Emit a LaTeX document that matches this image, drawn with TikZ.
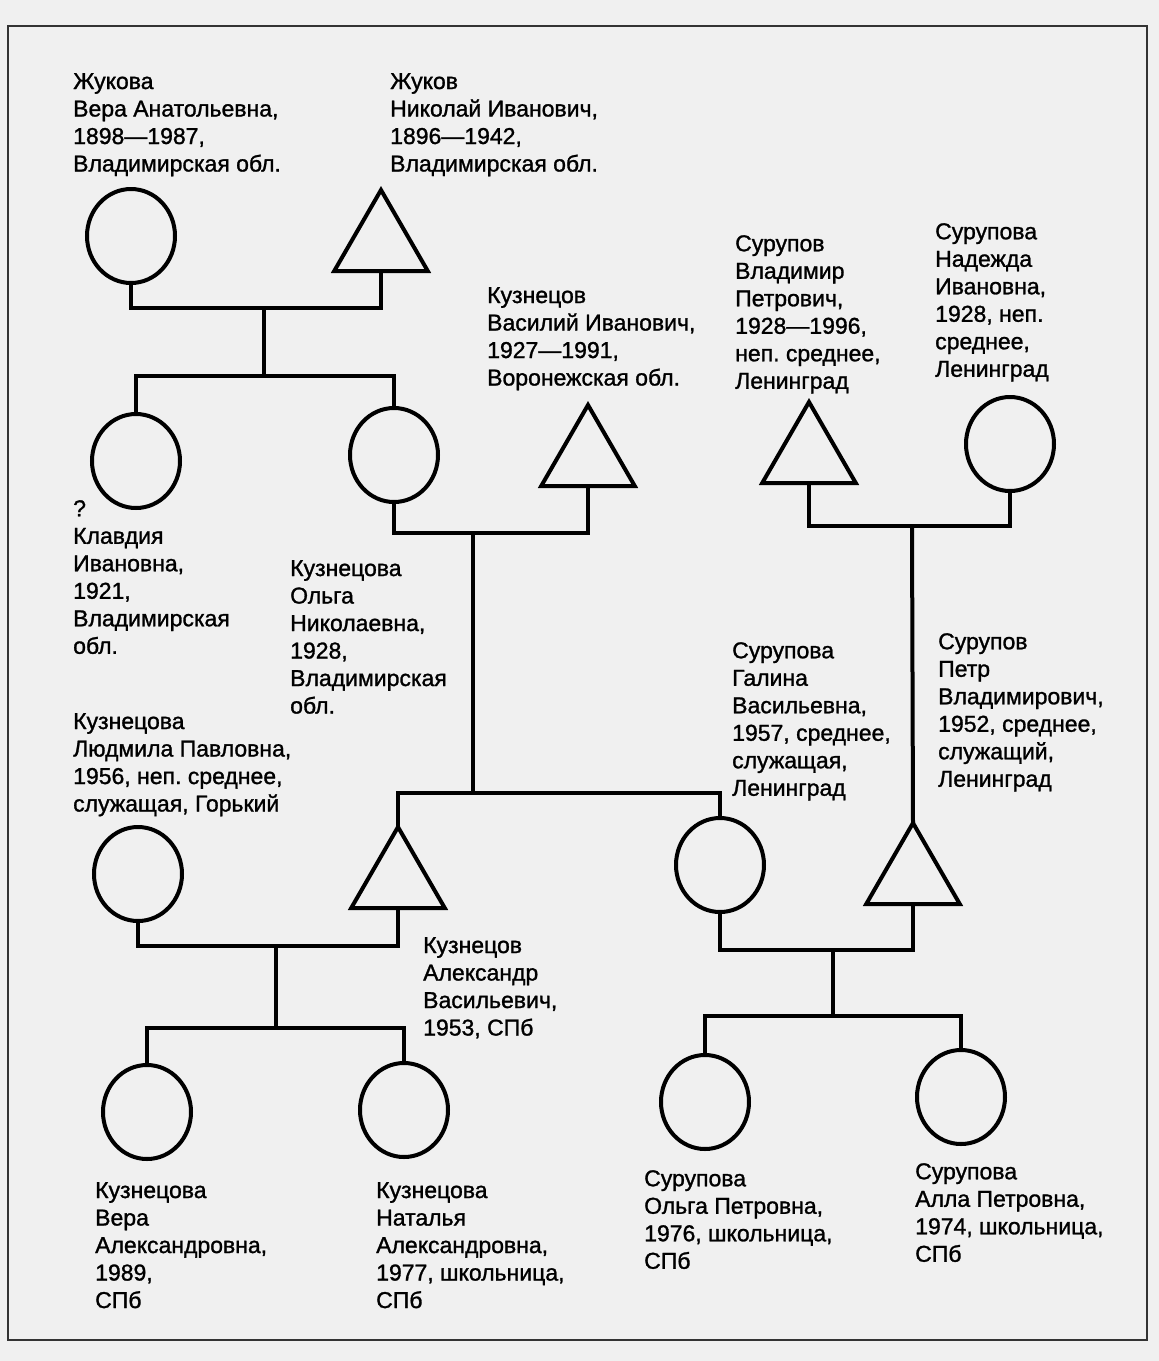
\documentclass[tikz,border=0pt]{standalone}
\usepackage{fontspec}
\setmainfont{Liberation Sans}[BoldFont={Liberation Sans}, BoldFeatures={FakeBold=1.2}]
\usetikzlibrary{shapes.geometric}
\frenchspacing

\tikzset{
  female/.style={draw, line width=4pt, ellipse, minimum width=88pt, minimum height=94pt, inner sep=0pt, outer sep=0pt},
  male/.style={draw, line width=4pt, regular polygon, regular polygon sides=3, minimum size=108pt, inner sep=0pt, outer sep=0pt},
  info/.style={anchor=north west, inner sep=0pt, align=left, font=\fontsize{23}{27.5}\selectfont\bfseries},
  link/.style={line width=4pt}
}

\begin{document}
\begin{tikzpicture}[x=1pt, y=-1pt]
  % Paper and frame
  \fill[black!6] (0,0) rectangle (1159,1361);
  \useasboundingbox (0,0) rectangle (1159,1361);
  \draw[line width=2pt, black!80] (8,26) rectangle (1147,1340);

  % Grandparents
  \node[female] (zhukova) at (131,236) {};
  \node[male] (zhukov) at (381,244) {};
  \node[info] (tzhukova) at (73,73) {Жукова\\Вера Анатольевна,\\1898—1987,\\Владимирская обл.};
  \node[info] (tzhukov) at (390,73) {Жуков\\Николай Иванович,\\1896—1942,\\Владимирская обл.};

  \node[male] (vasily) at (588,459) {};
  \node[info] (tvasily) at (487,287) {Кузнецов\\Василий Иванович,\\1927—1991,\\Воронежская обл.};

  \node[male] (vladimir) at (809,456) {};
  \node[female] (nadezhda) at (1010,444) {};
  \node[info] (tvladimir) at (735,235) {Сурупов\\Владимир\\Петрович,\\1928—1996,\\неп. среднее,\\Ленинград};
  \node[info] (tnadezhda) at (935,223) {Сурупова\\Надежда\\Ивановна,\\1928, неп.\\среднее,\\Ленинград};

  % Parents
  \node[female] (klavdia) at (136,461) {};
  \node[female] (olga) at (394,455) {};
  \node[info] (tklavdia) at (73,500) {?\\Клавдия\\Ивановна,\\1921,\\Владимирская\\обл.};
  \node[info] (tolga) at (290,560) {Кузнецова\\Ольга\\Николаевна,\\1928,\\Владимирская\\обл.};

  \node[female] (ludmila) at (138,874) {};
  \node[male] (alexandr) at (398,881) {};
  \node[female] (galina) at (720,865) {};
  \node[male] (petr) at (913,877) {};
  \node[info] (tludmila) at (73,713) {Кузнецова\\Людмила Павловна,\\1956, неп. среднее,\\служащая, Горький};
  \node[info] (talexandr) at (423,937) {Кузнецов\\Александр\\Васильевич,\\1953, СПб};
  \node[info] (tgalina) at (732,642) {Сурупова\\Галина\\Васильевна,\\1957, среднее,\\служащая,\\Ленинград};
  \node[info] (tpetr) at (938,633) {Сурупов\\Петр\\Владимирович,\\1952, среднее,\\служащий,\\Ленинград};

  % Children
  \node[female] (vera) at (147,1112) {};
  \node[female] (natalya) at (404,1110) {};
  \node[female] (olgap) at (705,1102) {};
  \node[female] (alla) at (961,1097) {};
  \node[info] (tvera) at (95,1182) {Кузнецова\\Вера\\Александровна,\\1989,\\СПб};
  \node[info] (tnatalya) at (376,1182) {Кузнецова\\Наталья\\Александровна,\\1977, школьница,\\СПб};
  \node[info] (tolgap) at (644,1170) {Сурупова\\Ольга Петровна,\\1976, школьница,\\СПб};
  \node[info] (talla) at (915,1163) {Сурупова\\Алла Петровна,\\1974, школьница,\\СПб};

  % Marriages and descent
  \coordinate (m1) at (264,308);
  \coordinate (s1) at (264,376);
  \draw[link] (zhukova.south) |- (m1) -| (zhukov.south);
  \draw[link] (m1) -- (s1);
  \draw[link] (klavdia.north) |- (s1) -| (olga.north);

  \coordinate (m2) at (473,533);
  \coordinate (s2) at (473,793);
  \draw[link] (olga.south) |- (m2) -| (vasily.south);
  \draw[link] (m2) -- (s2);
  \draw[link] (alexandr.north) |- (s2) -| (galina.north);

  \coordinate (m3) at (912,526);
  \draw[link] (vladimir.south) |- (m3) -| (nadezhda.south);
  \draw[link] (m3) -- (petr.north);

  \coordinate (m4) at (276,946);
  \coordinate (s4) at (276,1028);
  \draw[link] (ludmila.south) |- (m4) -| (alexandr.south);
  \draw[link] (m4) -- (s4);
  \draw[link] (vera.north) |- (s4) -| (natalya.north);

  \coordinate (m5) at (833,950);
  \coordinate (s5) at (833,1016);
  \draw[link] (galina.south) |- (m5) -| (petr.south);
  \draw[link] (m5) -- (s5);
  \draw[link] (olgap.north) |- (s5) -| (alla.north);
\end{tikzpicture}
\end{document}
